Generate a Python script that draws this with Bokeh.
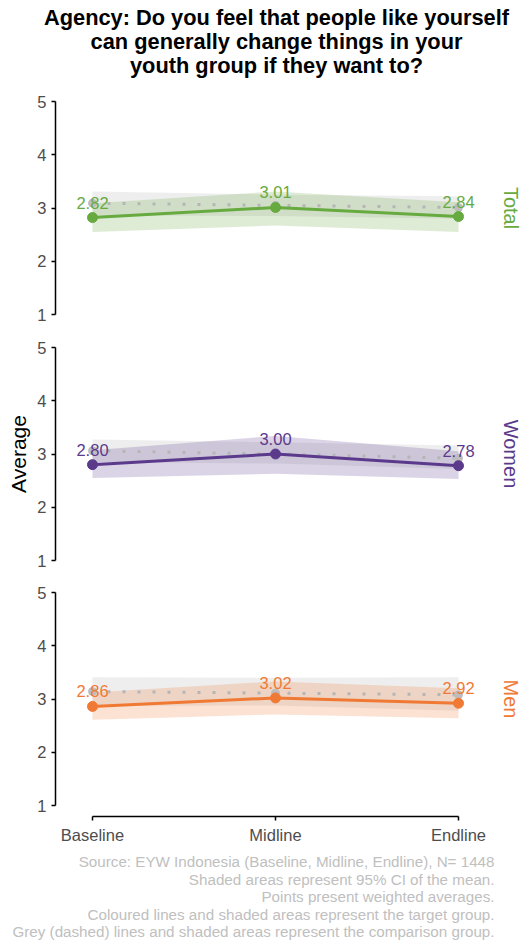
import math
from bokeh.plotting import figure
from bokeh.layouts import column
from bokeh.models import Range1d
from bokeh.embed import file_html
from bokeh.resources import INLINE
from bokeh.core.properties import value

# ---------------- data ----------------
waves = ["Baseline", "Midline", "Endline"]
wave_x = [0, 1, 2]
groups = ["Total", "Women", "Men"]
group_colors = ["#67aa3f", "#5b3a8c", "#f07a34"]

total_mean = [2.82, 3.01, 2.84]
total_low = [2.55, 2.67, 2.55]
total_high = [3.09, 3.31, 3.11]
total_cmp_mean = [3.09, 3.05, 3.01]
total_cmp_low = [2.86, 2.85, 2.80]
total_cmp_high = [3.31, 3.25, 3.22]

women_mean = [2.80, 3.00, 2.78]
women_low = [2.55, 2.63, 2.53]
women_high = [3.07, 3.34, 3.05]
women_cmp_mean = [3.06, 3.00, 2.92]
women_cmp_low = [2.85, 2.82, 2.72]
women_cmp_high = [3.27, 3.22, 3.16]

men_mean = [2.86, 3.02, 2.92]
men_low = [2.61, 2.71, 2.64]
men_high = [3.12, 3.33, 3.20]
men_cmp_mean = [3.14, 3.11, 3.08]
men_cmp_low = [2.87, 2.88, 2.78]
men_cmp_high = [3.41, 3.40, 3.41]

y_ticks = [1, 2, 3, 4, 5]

title_lines = ["Agency: Do you feel that people like yourself",
               "can generally change things in your",
               "youth group if they want to?"]
footnote_lines = ["Source: EYW Indonesia (Baseline, Midline, Endline), N= 1448",
                  "Shaded areas represent 95% CI of the mean.",
                  "Points present weighted averages.",
                  "Coloured lines and shaded areas represent the target group.",
                  "Grey (dashed) lines and shaded areas represent the comparison group."]

series = [
    (total_mean, total_low, total_high, total_cmp_mean, total_cmp_low, total_cmp_high),
    (women_mean, women_low, women_high, women_cmp_mean, women_cmp_low, women_cmp_high),
    (men_mean, men_low, men_high, men_cmp_mean, men_cmp_low, men_cmp_high),
]

# ---------------- layout geometry (page pixels) ----------------
FONT = "Liberation Sans"
PAGE_W = 522
PX_X = 183.0          # pixels per wave step
X0_PX = 92.0          # page x of "Baseline"
PX_Y = 53.25          # pixels per scale point
AXIS_X_PX = 55.0      # page x of the y axis line
# (figure top, figure height, page y of value 5) for each panel
panels = [(0, 330, 101), (330, 246, 347), (576, 364, 592)]


def px_to_x(px):
    return (px - X0_PX) / PX_X


def make_y(fig_top, py_of5):
    def px_to_y(py):
        return 5 + (py_of5 - py) / PX_Y
    return px_to_y


x_range = Range1d(px_to_x(0), px_to_x(PAGE_W))

figs = []
for i, (g, col, s) in enumerate(zip(groups, group_colors, series)):
    mean, low, high, cmean, clow, chigh = s
    top, h, py5 = panels[i]
    to_y = make_y(top, py5)
    last = (i == 2)
    p = figure(frame_width=PAGE_W, frame_height=h,
               x_range=x_range, y_range=Range1d(to_y(top + h), to_y(top)),
               output_backend="svg", toolbar_location=None,
               x_axis_location="below" if last else None,
               min_border=0, min_border_left=0, min_border_right=0,
               min_border_top=0, min_border_bottom=0)
    p.outline_line_color = None
    p.grid.visible = False
    p.background_fill_color = "white"
    p.border_fill_color = "white"

    # y axis, capped to 1..5, at a fixed place inside the frame
    ya = p.yaxis[0]
    ya.fixed_location = px_to_x(AXIS_X_PX)
    ya.ticker = y_ticks
    ya.bounds = (1, 5)
    ya.axis_line_color = "black"
    ya.axis_line_width = 1.5
    ya.major_tick_line_color = "black"
    ya.major_tick_line_width = 1.5
    ya.major_tick_out = 4
    ya.major_tick_in = 0
    ya.minor_tick_line_color = None
    ya.major_label_text_color = "#4d4d4d"
    ya.major_label_text_font = FONT
    ya.major_label_text_font_size = "16.5px"
    ya.major_label_standoff = 5

    if last:
        xa = p.xaxis[0]
        xa.fixed_location = to_y(top + 240)   # page y 816
        xa.ticker = wave_x
        xa.major_label_overrides = {k: w for k, w in zip(wave_x, waves)}
        xa.bounds = (0, 2)
        xa.axis_line_color = "black"
        xa.axis_line_width = 1.5
        xa.major_tick_line_color = "black"
        xa.major_tick_line_width = 1.5
        xa.major_tick_out = 4
        xa.major_tick_in = 0
        xa.minor_tick_line_color = None
        xa.major_label_text_color = "#4d4d4d"
        xa.major_label_text_font = FONT
        xa.major_label_text_font_size = "16.5px"
        xa.major_label_standoff = 5

    # comparison band & target band
    p.varea(x=wave_x, y1=clow, y2=chigh, fill_color="#d9d9d9", fill_alpha=0.45)
    p.varea(x=wave_x, y1=low, y2=high, fill_color=col, fill_alpha=0.22)
    # comparison line & points
    p.line(x=wave_x, y=cmean, line_color="#b5b5b5", line_width=3, line_dash="3 12")
    p.scatter(x=wave_x, y=cmean, size=8, color="#bdbdbd")
    # target line & points
    p.line(x=wave_x, y=mean, line_color=col, line_width=3)
    p.scatter(x=wave_x, y=mean, size=10, color=col)
    p.text(x=wave_x, y=mean, text=["%.2f" % v for v in mean],
           text_align="center", text_baseline="middle", y_offset=-15,
           text_font=value(FONT), text_font_size="16.5px", text_color=col)

    # facet strip label on the right, reading top to bottom
    p.text(x=[px_to_x(510)], y=[3], text=[g], angle=-math.pi / 2,
           text_align="center", text_baseline="middle",
           text_font=value(FONT), text_font_size="20px", text_color=col)

    if i == 0:
        p.text(x=[px_to_x(276)] * 3, y=[to_y(py) for py in (17, 41, 65)],
               text=title_lines, text_align="center", text_baseline="middle",
               text_font=value(FONT), text_font_size="21.8px",
               text_font_style="bold", text_color="black")
    if i == 1:
        p.text(x=[px_to_x(18)], y=[3], text=["Average"], angle=math.pi / 2,
               text_align="center", text_baseline="middle",
               text_font=value(FONT), text_font_size="21px", text_color="black")
    if last:
        p.text(x=[px_to_x(494)] * len(footnote_lines),
               y=[to_y(861 + 17.6 * k) for k in range(len(footnote_lines))],
               text=footnote_lines, text_align="right", text_baseline="middle",
               text_font=value(FONT), text_font_size="15.2px",
               text_color="#c0c0c0")
    figs.append(p)

layout = column(*figs, spacing=0)
open("out.html", "w").write(file_html(layout, INLINE))
